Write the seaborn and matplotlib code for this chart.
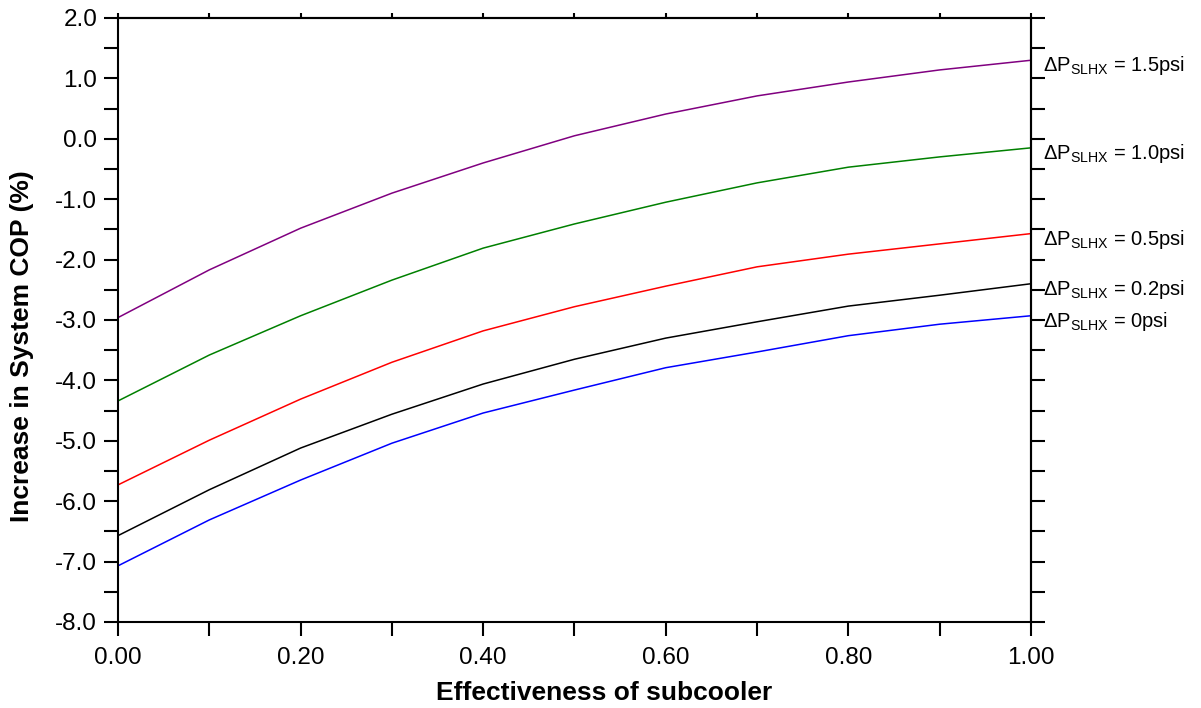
import numpy as np
import pandas as pd
import seaborn as sns
import matplotlib.pyplot as plt
from matplotlib.ticker import MultipleLocator, FormatStrFormatter

#####################################################
## Data
effectiveness = [0.0, 0.1, 0.2, 0.3, 0.4, 0.5, 0.6, 0.7, 0.8, 0.9, 1.0]

cop_0psi = [-7.07, -6.31, -5.65, -5.04, -4.54, -4.16, -3.79, -3.53, -3.26, -3.07, -2.93]
cop_02psi = [-6.57, -5.81, -5.12, -4.56, -4.06, -3.65, -3.30, -3.03, -2.77, -2.59, -2.40]
cop_05psi = [-5.73, -4.99, -4.31, -3.70, -3.18, -2.78, -2.44, -2.12, -1.91, -1.74, -1.57]
cop_10psi = [-4.34, -3.58, -2.93, -2.34, -1.81, -1.41, -1.05, -0.73, -0.47, -0.30, -0.15]
cop_15psi = [-2.96, -2.17, -1.48, -0.90, -0.40, 0.05, 0.41, 0.71, 0.94, 1.14, 1.30]

series_names = ['0', '0.2', '0.5', '1.0', '1.5']
series_labels = [r'$\Delta$P$_{\rm SLHX}$ = 0psi',
                 r'$\Delta$P$_{\rm SLHX}$ = 0.2psi',
                 r'$\Delta$P$_{\rm SLHX}$ = 0.5psi',
                 r'$\Delta$P$_{\rm SLHX}$ = 1.0psi',
                 r'$\Delta$P$_{\rm SLHX}$ = 1.5psi']
series_colors = ['#0000ff', '#000000', '#ff0000', '#008000', '#800080']
#####################################################

sns.set_style('ticks')
plt.rcParams['font.family'] = ['Liberation Sans', 'DejaVu Sans']
plt.rcParams['mathtext.fontset'] = 'custom'
plt.rcParams['mathtext.rm'] = 'Liberation Sans'
plt.rcParams['mathtext.it'] = 'Liberation Sans'
plt.rcParams['text.color'] = 'black'
plt.rcParams['axes.labelcolor'] = 'black'
plt.rcParams['xtick.color'] = 'black'
plt.rcParams['ytick.color'] = 'black'
plt.rcParams['axes.edgecolor'] = 'black'

all_values = [cop_0psi, cop_02psi, cop_05psi, cop_10psi, cop_15psi]
frames = []
for name, vals in zip(series_names, all_values):
    frames.append(pd.DataFrame({'eff': effectiveness, 'cop': vals, 'dp': name}))
df = pd.concat(frames, ignore_index=True)

fig = plt.figure(figsize=(12.01, 7.08), dpi=100)
ax = fig.add_axes([0.0983, 0.1215, 0.7601, 0.8531])

sns.lineplot(data=df, x='eff', y='cop', hue='dp', palette=series_colors,
             linewidth=1.1, legend=False, ax=ax)

ax.set_xlim(0, 1)
ax.set_ylim(-8, 2)
ax.xaxis.set_major_locator(MultipleLocator(0.2))
ax.xaxis.set_minor_locator(MultipleLocator(0.1))
ax.yaxis.set_major_locator(MultipleLocator(1.0))
ax.yaxis.set_minor_locator(MultipleLocator(0.5))
ax.xaxis.set_major_formatter(FormatStrFormatter('%.2f'))
ax.yaxis.set_major_formatter(FormatStrFormatter('%.1f'))
ax.tick_params(which='both', direction='out', length=10, width=1.5, labelsize=17.5)
ax.tick_params(axis='x', pad=8)
ax.tick_params(axis='y', pad=5)

for s in ax.spines.values():
    s.set_linewidth(1.5)
    s.set_visible(True)

# top axis: short ticks, no labels
top = ax.secondary_xaxis('top')
top.xaxis.set_major_locator(MultipleLocator(0.1))
top.tick_params(direction='out', length=3.5, width=1.5, labeltop=False)
top.spines['top'].set_linewidth(1.5)

# right axis: ticks every 0.5, no labels
right = ax.secondary_yaxis('right')
right.yaxis.set_major_locator(MultipleLocator(0.5))
right.tick_params(direction='out', length=10, width=1.5, labelright=False)
right.spines['right'].set_linewidth(1.5)

ax.set_xlabel('Effectiveness of subcooler', fontsize=19, fontweight='bold')
ax.set_ylabel('Increase in System COP (%)', fontsize=19, fontweight='bold')
ax.xaxis.set_label_coords(0.532, -0.098)
ax.yaxis.set_label_coords(-0.092, 0.457)

# curve labels at the right end
for lab, vals in zip(series_labels, all_values):
    ax.annotate(lab, xy=(effectiveness[-1], vals[-1]), xytext=(9, -4),
                textcoords='offset points', va='center', ha='left',
                fontsize=14.5, annotation_clip=False)

fig.savefig('out.png', dpi=100)
